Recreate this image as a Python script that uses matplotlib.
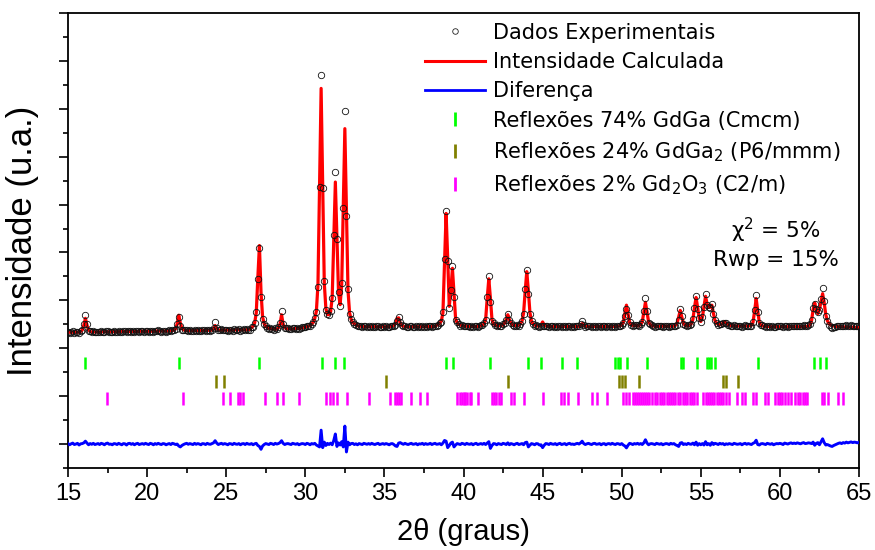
import numpy as np
import matplotlib
matplotlib.use("Agg")
import matplotlib.pyplot as plt
from matplotlib.lines import Line2D
from matplotlib.ticker import MultipleLocator

# 2theta grid, 0.1 deg step, 15.0 .. 65.0
two_theta = np.round(np.arange(15.0, 65.05, 0.1), 1)

# calculated intensity (hundredths of a.u.), one row per degree (x.0 .. x.9)
calc_rows = [
    [466, 467, 466, 467, 467, 467, 467, 467, 470, 476],  # 15
    [496, 525, 496, 476, 470, 468, 468, 468, 468, 468],  # 16
    [468, 468, 469, 469, 469, 469, 469, 469, 469, 469],  # 17
    [469, 469, 469, 469, 470, 470, 470, 470, 470, 470],  # 18
    [470, 470, 470, 470, 470, 471, 471, 471, 471, 471],  # 19
    [471, 471, 471, 471, 471, 472, 472, 472, 472, 472],  # 20
    [472, 472, 472, 472, 473, 473, 474, 476, 481, 502],  # 21
    [538, 505, 483, 477, 475, 474, 474, 474, 474, 474],  # 22
    [474, 474, 474, 474, 474, 474, 475, 475, 475, 475],  # 23
    [475, 476, 480, 495, 481, 477, 476, 476, 476, 476],  # 24
    [476, 476, 476, 476, 476, 476, 477, 477, 477, 477],  # 25
    [477, 477, 477, 477, 478, 479, 486, 492, 506, 548],  # 26
    [696, 829, 636, 531, 503, 492, 486, 483, 482, 481],  # 27
    [480, 480, 480, 485, 500, 540, 500, 486, 482, 481],  # 28
    [481, 481, 481, 482, 482, 483, 483, 484, 485, 487],  # 29
    [489, 490, 492, 495, 501, 508, 525, 555, 665, 1085],  # 30
    [1485, 1085, 672, 566, 540, 541, 552, 612, 860, 1094],  # 31
    [867, 631, 582, 663, 998, 1317, 986, 640, 547, 520],  # 32
    [507, 502, 497, 494, 493, 492, 491, 490, 490, 490],  # 33
    [490, 490, 490, 490, 490, 490, 490, 490, 490, 490],  # 34
    [490, 490, 490, 490, 491, 492, 495, 504, 525, 527],  # 35
    [505, 495, 492, 491, 490, 490, 490, 490, 490, 490],  # 36
    [490, 490, 490, 490, 490, 490, 490, 490, 491, 491],  # 37
    [490, 490, 491, 496, 499, 504, 514, 548, 757, 963],  # 38
    [778, 575, 641, 734, 626, 524, 506, 500, 497, 495],  # 39
    [494, 493, 492, 492, 491, 491, 491, 491, 491, 491],  # 40
    [492, 494, 497, 502, 520, 610, 690, 610, 520, 502],  # 41
    [497, 495, 494, 494, 495, 498, 505, 520, 540, 520],  # 42
    [505, 498, 495, 494, 494, 497, 502, 513, 548, 640],  # 43
    [720, 640, 548, 513, 502, 497, 494, 493, 493, 497],  # 44
    [510, 497, 493, 492, 491, 491, 491, 491, 491, 491],  # 45
    [491, 491, 491, 491, 491, 491, 491, 491, 491, 491],  # 46
    [491, 491, 491, 492, 495, 503, 495, 492, 491, 491],  # 47
    [491, 491, 491, 491, 491, 491, 491, 491, 491, 491],  # 48
    [491, 491, 491, 491, 491, 491, 492, 492, 493, 494],  # 49
    [497, 508, 544, 580, 544, 508, 498, 495, 495, 497],  # 50
    [493, 495, 499, 510, 551, 592, 551, 510, 499, 495],  # 51
    [493, 492, 492, 492, 492, 492, 492, 492, 492, 492],  # 52
    [492, 492, 492, 492, 496, 505, 530, 558, 530, 505],  # 53
    [496, 494, 494, 496, 502, 520, 570, 612, 570, 525],  # 54
    [512, 530, 575, 617, 585, 570, 572, 580, 545, 515],  # 55
    [505, 500, 498, 500, 505, 510, 505, 500, 497, 495],  # 56
    [494, 493, 493, 493, 493, 493, 493, 493, 493, 493],  # 57
    [493, 494, 496, 508, 555, 608, 555, 508, 497, 494],  # 58
    [492, 491, 491, 491, 490, 490, 490, 490, 490, 490],  # 59
    [490, 490, 490, 490, 490, 490, 490, 490, 490, 490],  # 60
    [490, 490, 490, 490, 490, 490, 490, 491, 493, 497],  # 61
    [515, 562, 590, 560, 545, 562, 595, 628, 590, 540],  # 62
    [515, 503, 498, 495, 493, 492, 491, 491, 490, 490],  # 63
    [489, 489, 489, 488, 488, 488, 488, 487, 487, 487],  # 64
    [486],                                                # 65.0
]

# observed - calculated (hundredths of a.u.)
diff_rows = [
    [2, -3, 1, 4, -2, 0, 3, -4, 1, 2],  # 15
    [5, 12, 4, -3, 2, -1, 3, -2, 0, 2],  # 16
    [-2, 3, 1, -3, 2, 4, -1, 0, -3, 2],  # 17
    [1, -2, 3, 0, -3, 2, 1, -4, 2, 3],  # 18
    [-1, 2, -3, 1, 3, -2, 0, 2, -1, 3],  # 19
    [0, -2, 3, 1, -3, 2, -1, 3, 0, -2],  # 20
    [2, 1, -3, 0, 2, -2, 3, 1, -2, 0],  # 21
    [-8, -12, -6, -2, 1, 3, -1, 2, 0, -2],  # 22
    [3, -1, 2, 0, -3, 2, 1, -2, 3, 0],  # 23
    [-1, 2, 5, 14, 4, -2, 1, 3, -1, 2],  # 24
    [0, -3, 2, 1, -2, 3, 0, -1, 2, -3],  # 25
    [1, 2, -2, 3, 0, -1, 2, -3, 1, 3],  # 26
    [-6, -10, -22, -8, -2, 2, 0, -2, 3, 1],  # 27
    [-2, 3, 0, 2, 6, 14, 3, -2, 1, 2],  # 28
    [0, -2, 3, 1, -1, 2, -3, 0, 2, 1],  # 29
    [-2, 3, 1, -3, 2, 0, 3, -4, -8, -12],  # 30
    [58, -15, 8, -6, 3, -2, 4, -3, 15, 42],  # 31
    [-10, 5, -4, 10, -12, 75, -33, 8, -3, 2],  # 32
    [3, -2, 1, -3, 2, 0, -2, 3, 1, -1],  # 33
    [2, -1, 3, 0, -2, 1, 3, -2, 0, 2],  # 34
    [-1, 2, 0, -3, 1, 2, -2, -8, -10, 4],  # 35
    [6, 2, -1, 3, 0, -2, 1, 3, -1, 0],  # 36
    [2, -3, 1, 0, 3, -2, 2, -1, 0, 3],  # 37
    [-2, 1, 3, -1, 0, 2, -3, 4, 15, 12],  # 38
    [-15, -6, 4, 8, -12, -4, 2, 0, -2, 3],  # 39
    [1, -2, 3, 0, -1, 2, -3, 1, 3, -2],  # 40
    [0, 2, -1, 3, -2, 4, 10, -18, -6, 2],  # 41
    [1, -3, 2, 0, -2, 3, 1, -2, 5, -3],  # 42
    [2, 0, -3, 1, 3, -2, 0, 2, -3, 6],  # 43
    [8, -12, -4, 2, 0, -3, 2, 1, -4, -3],  # 44
    [-15, -5, 2, 1, -2, 3, 0, -1, 2, -3],  # 45
    [1, 3, -2, 0, 2, -3, 1, 3, -1, 0],  # 46
    [-2, 1, 3, 0, 5, 12, 2, -2, 1, 3],  # 47
    [0, -2, 2, 3, -1, 0, 2, -3, 1, 2],  # 48
    [-3, 1, 2, -1, 3, 0, -2, 2, 1, -2],  # 49
    [2, -4, -8, -16, -5, 3, 1, -2, 2, 0],  # 50
    [3, -1, 2, -2, 5, 18, 4, -3, 1, 2],  # 51
    [0, -2, 3, 1, -1, 2, -3, 0, 2, 1],  # 52
    [-2, 3, 0, 2, -3, -6, -10, 4, 6, -2],  # 53
    [1, -2, 3, 0, -1, 4, -3, 8, -5, 2],  # 54
    [-3, 2, -4, 10, -3, 2, -5, 6, -2, 3],  # 55
    [1, -2, 3, 0, 2, -3, 1, -1, 2, 0],  # 56
    [-2, 3, 1, -1, 0, 2, -3, 1, 3, -1],  # 57
    [2, 0, -2, 3, 6, 16, -2, -4, 1, 2],  # 58
    [0, -2, 3, 1, -1, 2, -3, 0, 2, 1],  # 59
    [3, 1, -2, 4, 2, 0, 3, 5, 2, 4],  # 60
    [2, 5, 3, 1, 4, 6, 2, 3, 5, 4],  # 61
    [2, 8, -5, 3, 6, -3, 10, 22, 6, -4],  # 62
    [-2, -5, -8, -10, -6, -3, 0, 3, 5, 2],  # 63
    [6, 4, 8, 5, 7, 9, 6, 8, 7, 5],  # 64
    [8],  # 65.0
]

# Bragg reflection positions (2theta)
refl_gdga = [16.07, 22.02, 27.07, 31.07, 31.9, 32.47, 38.87, 39.36, 41.68,
             44.1, 44.9, 46.2, 47.2, 49.6, 49.75, 49.9, 50.36, 51.58, 53.73,
             53.85, 54.74, 55.37, 55.52, 55.67, 55.9, 58.64, 62.15, 62.53, 62.9]
refl_gdga2 = [24.33, 24.88, 35.1, 42.83, 49.83, 50.0, 50.2, 51.11, 56.43,
              56.6, 57.37]
refl_gd2o3 = [17.44, 22.29, 24.82, 25.25, 25.77, 25.9, 26.05, 27.45, 28.23,
              28.57, 29.58, 31.29, 31.56, 31.77, 32.02, 32.61, 34.03, 35.35,
              35.67, 35.8, 35.95, 36.05, 36.68, 37.25, 37.67, 39.62, 39.75,
              39.88, 40.0, 40.12, 40.25, 40.38, 40.5, 40.9, 41.78, 41.9, 42.05,
              42.25, 42.4, 43.02, 43.22, 43.8, 45.05, 46.14, 46.35, 46.59,
              47.25, 48.14, 48.42, 49.07, 50.06, 50.3, 50.45, 50.7, 50.85,
              50.98, 51.1, 51.22, 51.35, 51.5, 51.62, 51.75, 51.9, 52.12,
              52.25, 52.4, 52.55, 52.7, 52.85, 53.0, 53.12, 53.26, 53.4, 53.55,
              53.7, 53.85, 54.0, 54.15, 54.3, 54.45, 54.6, 54.74, 55.16, 55.3,
              55.45, 55.6, 55.72, 55.85, 56.0, 56.15, 56.28, 56.42, 56.6,
              56.8, 57.27, 57.58, 57.79, 58.32, 58.5, 59.06, 59.27, 59.7,
              59.85, 60.0, 60.15, 60.3, 60.5, 60.7, 60.96, 61.16, 61.3, 61.45,
              61.58, 61.69, 62.64, 62.8, 63.06, 63.69, 64.0]

calc = np.array([v for row in calc_rows for v in row]) / 100.0
diff = np.array([v for row in diff_rows for v in row]) / 100.0
obs = calc + diff

RED, BLUE = "#ff0000", "#0000ff"
GREEN, OLIVE, MAGENTA = "#00ff00", "#808000", "#ff00ff"
AX_FONT = "Liberation Sans"

fig = plt.figure(figsize=(8.75, 5.5), dpi=100)
ax = fig.add_axes([68 / 875, 1 - 468 / 550, (859 - 68) / 875, (468 - 13) / 550])

ax.plot(two_theta, calc, color=RED, lw=2.3, zorder=3)
ax.plot(two_theta, obs, ls="none", marker="o", ms=4.6, mfc="none", mec="#111111",
        mew=0.6, zorder=4)
ax.plot(two_theta, diff, color=BLUE, lw=2.1, zorder=3)

# reflection ticks
ax.vlines(refl_gdga, 3.13, 3.65, color=GREEN, lw=1.8)
ax.vlines(refl_gdga2, 2.33, 2.87, color=OLIVE, lw=1.8)
ax.vlines(refl_gd2o3, 1.63, 2.17, color=MAGENTA, lw=1.8)

ax.set_xlim(15, 65)
ax.set_ylim(-1, 18)
ax.xaxis.set_major_locator(MultipleLocator(5))
ax.xaxis.set_minor_locator(MultipleLocator(2.5))
ax.yaxis.set_major_locator(MultipleLocator(2))
ax.yaxis.set_minor_locator(MultipleLocator(1))
ax.tick_params(which="both", direction="out", width=1.2, top=False, right=False)
ax.tick_params(which="major", length=6.5)
ax.tick_params(which="minor", length=3.6)
ax.tick_params(axis="x", labelsize=17, pad=4)
ax.tick_params(axis="y", labelleft=False)
for lab in ax.get_xticklabels():
    lab.set_family(AX_FONT)
for sp in ax.spines.values():
    sp.set_linewidth(1.3)

ax.set_xlabel("2θ (graus)", family=AX_FONT, fontsize=21, labelpad=10)
ax.set_ylabel("Intensidade (u.a.)", family=AX_FONT, fontsize=25, labelpad=14)

handles = [
    Line2D([], [], ls="none", marker="o", ms=4, mfc="none", mec="#222222", mew=0.6),
    Line2D([], [], color=RED, lw=2.2),
    Line2D([], [], color=BLUE, lw=2.0),
    Line2D([], [], ls="none", marker="|", ms=10, mew=2, color=GREEN),
    Line2D([], [], ls="none", marker="|", ms=10, mew=2, color=OLIVE),
    Line2D([], [], ls="none", marker="|", ms=10, mew=2, color=MAGENTA),
]
labels = [
    "Dados Experimentais",
    "Intensidade Calculada",
    "Diferença",
    "Reflexões 74% GdGa (Cmcm)",
    "Reflexões 24% GdGa$_2$ (P6/mmm)",
    "Reflexões 2% Gd$_2$O$_3$ (C2/m)",
]
ax.legend(handles, labels, loc="upper left", bbox_to_anchor=(0.451, 0.979),
          frameon=False, fontsize=15, handlelength=2.9, handletextpad=0.38,
          labelspacing=0.45, borderpad=0, borderaxespad=0, numpoints=1)

ax.text(0.895, 0.523, "χ$^2$ = 5%", transform=ax.transAxes, fontsize=15.5,
        ha="center", va="center")
ax.text(0.895, 0.457, "Rwp = 15%", transform=ax.transAxes, fontsize=15.5,
        ha="center", va="center")

fig.savefig("out.png", dpi=100)
